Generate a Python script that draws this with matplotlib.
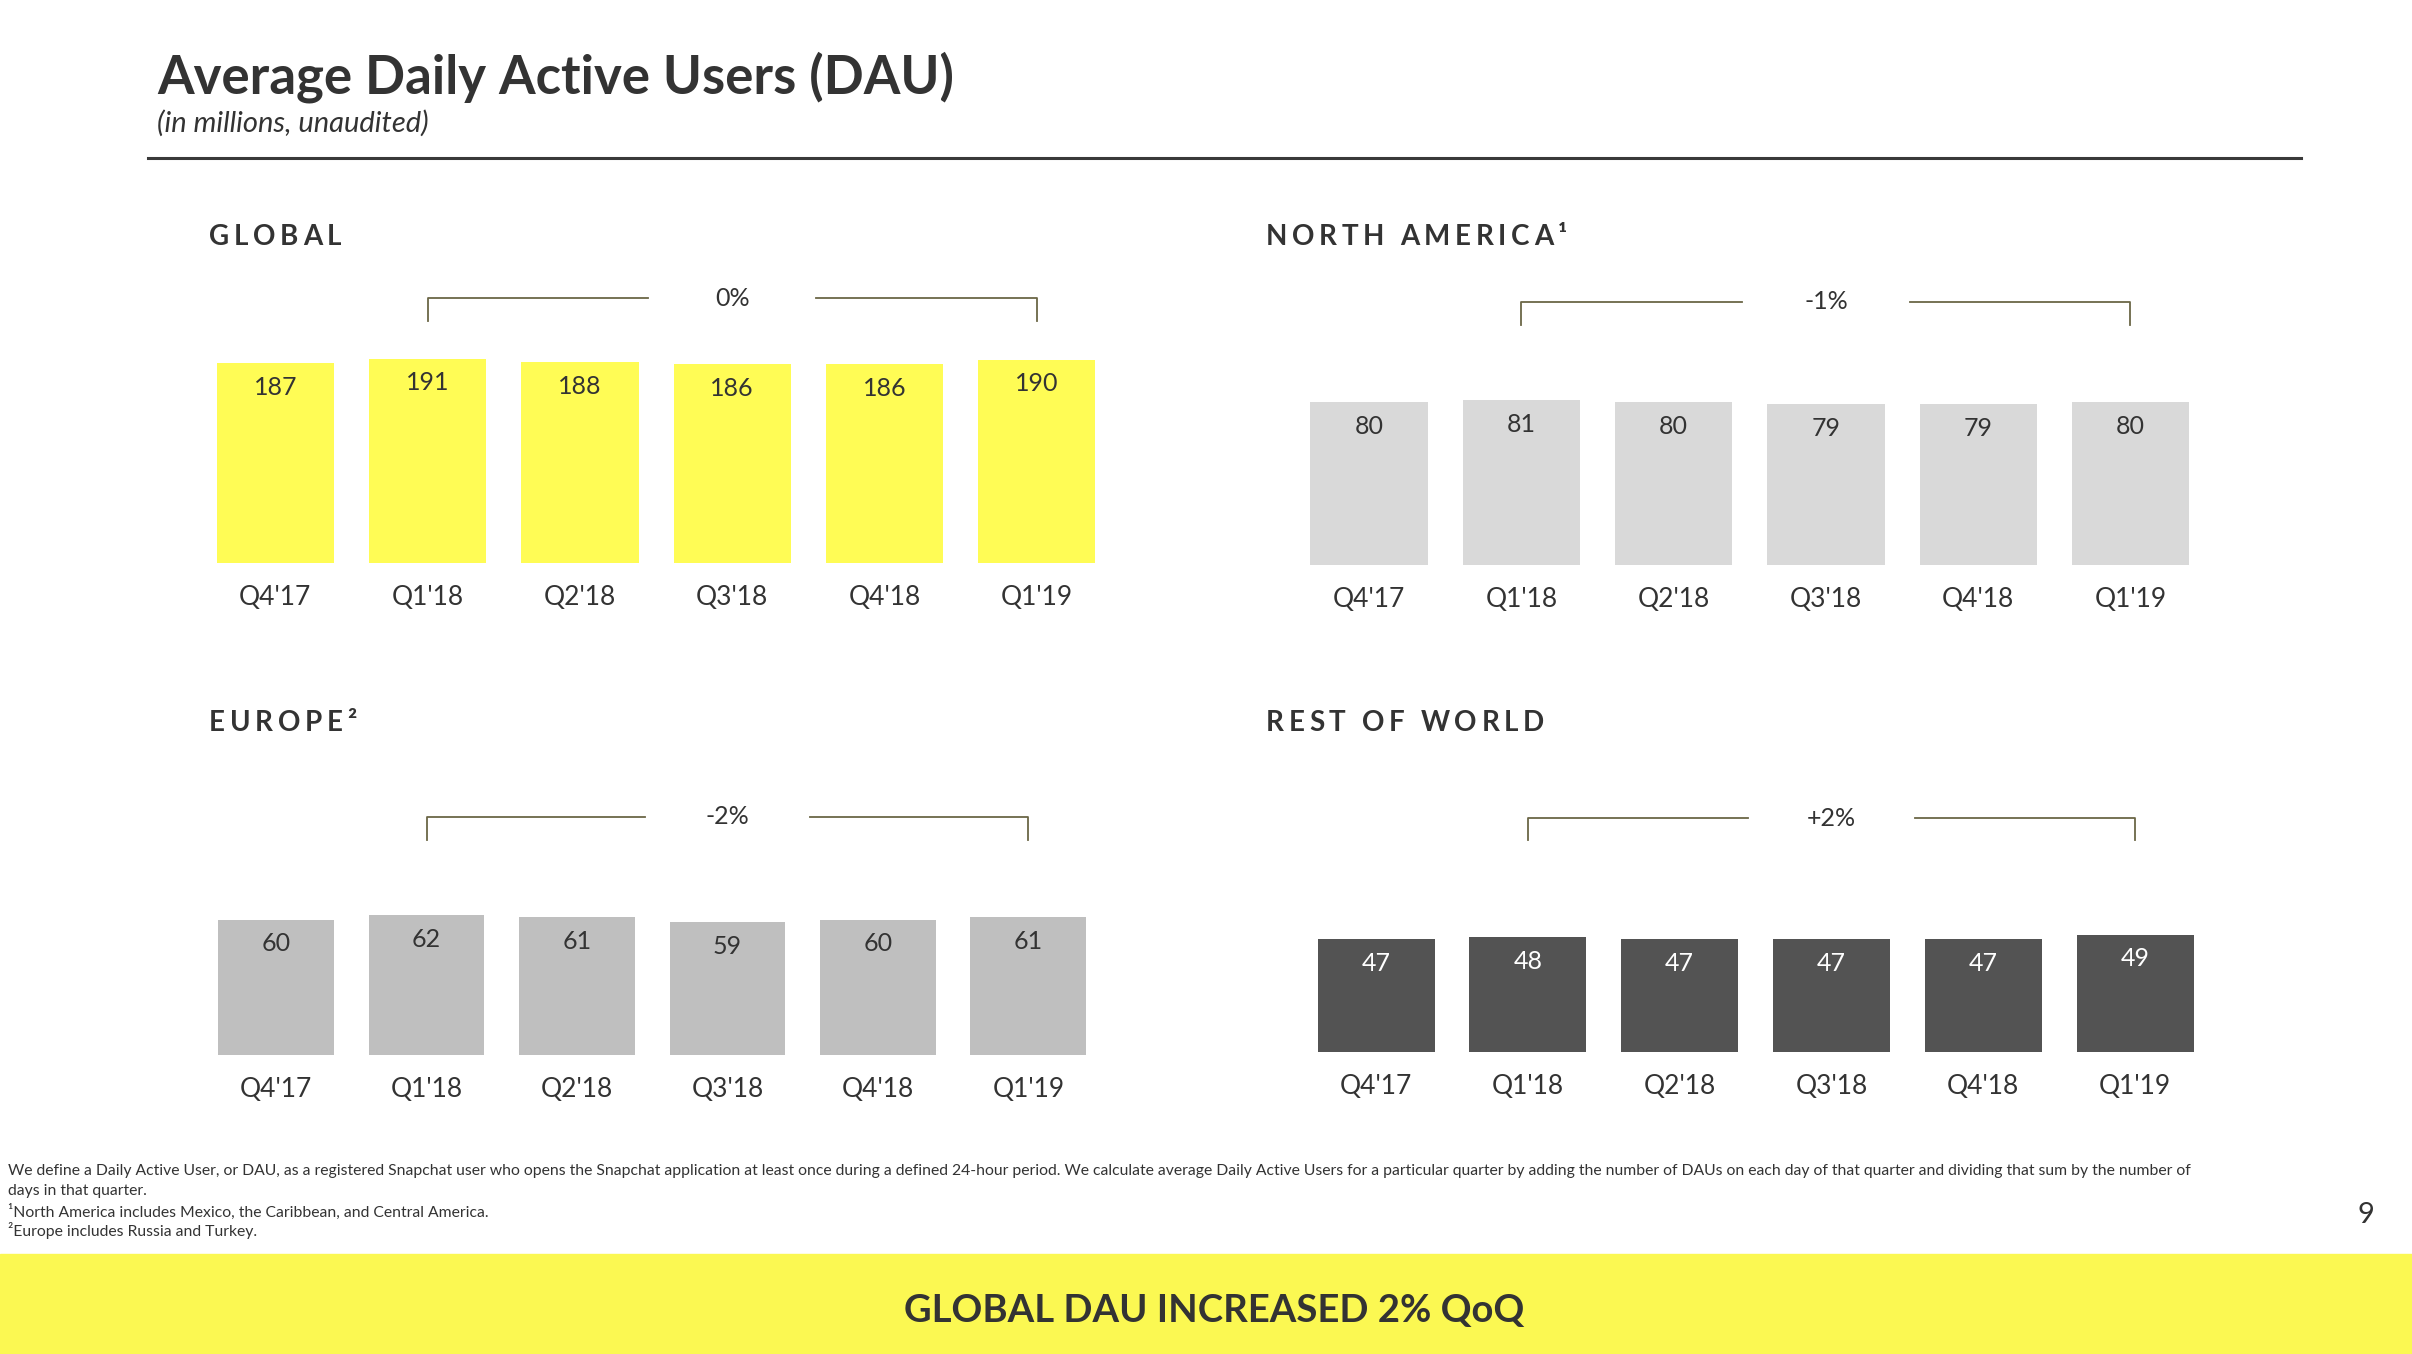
import numpy as np
import matplotlib
matplotlib.use("Agg")
import matplotlib.pyplot as plt
import matplotlib.transforms as mtransforms

plt.rcParams['font.family'] = ['Lato', 'DejaVu Sans']

quarters = ["Q4'17", "Q1'18", "Q2'18", "Q3'18", "Q4'18", "Q1'19"]
global_dau = [187, 191, 188, 186, 186, 190]
na_dau = [80, 81, 80, 79, 79, 80]
europe_dau = [60, 62, 61, 59, 60, 61]
row_dau = [47, 48, 47, 47, 47, 49]
changes = ["0%", "-1%", "-2%", "+2%"]

W, H = 2412, 1354
S = W / 1568.0          # reference sketch was measured at 1568 px wide
DARK = '#333333'

fig = plt.figure(figsize=(W / 100, H / 100), dpi=100)
fig.patch.set_facecolor('white')
renderer = fig.canvas.get_renderer()


def fx(x):
    return x / 1568.0


def fy(y):
    return 1 - y * S / H


def tracked_text(x, y, s, track, **kw):
    # draw caps with letter spacing (track in pixels), one glyph at a time
    px = x * W
    for ch in s:
        if ch == ' ':
            px += kw['fontsize'] * 0.35 + track
            continue
        t = fig.text(px / W, y, ch, ha='left', va='center', **kw)
        px += t.get_window_extent(renderer).width + track


# header
fig.text(fx(102), fy(50), "Average Daily Active Users (DAU)", fontsize=38,
         fontweight='bold', color=DARK, va='center', ha='left')
fig.text(fx(102), fy(80), "(in millions, unaudited)", fontsize=21,
         style='italic', color=DARK, va='center', ha='left')
fig.add_artist(plt.Line2D([fx(96), fx(1496)], [fy(103), fy(103)],
                          color='#3a3a3a', lw=2.2, transform=fig.transFigure))

panels = [
    # title, values, colour, text colour, left, spacing, baseline, px/unit, bracket y, tick y
    ("GLOBAL", global_dau, '#FFFC55', DARK, 129.5, 99.0, 366, 0.696, 194, 209, (136, 154)),
    ("NORTH AMERICA\u00b9", na_dau, '#D9D9D9', DARK, 840.5, 99.0, 367, 1.32, 196, 211, (823, 154)),
    ("EUROPE\u00b2", europe_dau, '#BFBFBF', DARK, 130.6, 97.8, 686, 1.47, 531, 546, (136, 470)),
    ("REST OF WORLD", row_dau, '#535353', 'white', 845.2, 98.7, 684, 1.56, 532, 546, (823, 470)),
]

AX_H = 180.0
for k, (title, vals, col, tcol, left, sp, base, ppu, by, ty, tpos) in enumerate(panels):
    ax = fig.add_axes([fx(left), fy(base), fx(6 * sp), AX_H * S / H])
    x = np.arange(len(quarters))
    ax.bar(x, vals, width=0.77, color=col, edgecolor='none')
    ax.set_xlim(-0.5, 5.5)
    ax.set_ylim(0, AX_H / ppu)
    ax.axis('off')
    for i, v in enumerate(vals):
        ax.annotate(str(v), xy=(i, v), xytext=(0, -17.5), textcoords='offset points',
                    ha='center', va='center', fontsize=18, color=tcol)
        ax.annotate(quarters[i], xy=(i, 0), xytext=(0, -25), textcoords='offset points',
                    ha='center', va='center', fontsize=19, color=DARK)
    # bracket Q1'18 -> Q1'19
    tr = mtransforms.blended_transform_factory(ax.transData, ax.transAxes)
    yb = (base - by) / AX_H
    yt = (base - ty) / AX_H
    bc = '#6b6746'
    gap = 0.55
    ax.plot([1, 1, 3 - gap], [yt, yb, yb], color=bc, lw=1.3, transform=tr, clip_on=False)
    ax.plot([3 + gap, 5, 5], [yb, yb, yt], color=bc, lw=1.3, transform=tr, clip_on=False)
    ax.text(3, yb, changes[k], transform=tr, ha='center', va='center',
            fontsize=18, color=DARK)
    tracked_text(fx(tpos[0]), fy(tpos[1]), title, 4.6, fontsize=20, fontweight='bold',
                 color=DARK)

# footnotes
notes = [
    (761, "We define a Daily Active User, or DAU, as a registered Snapchat user who opens the Snapchat application at least once during a defined 24-hour period. We calculate average Daily Active Users for a particular quarter by adding the number of DAUs on each day of that quarter and dividing that sum by the number of"),
    (774, "days in that quarter."),
    (788, "\u00b9North America includes Mexico, the Caribbean, and Central America."),
    (800, "\u00b2Europe includes Russia and Turkey."),
]
for y, t in notes:
    fig.text(fx(5), fy(y), t, fontsize=11.3, color=DARK, ha='left', va='center')

fig.text(fx(1538), fy(790), "9", fontsize=21, color=DARK, ha='center', va='center')

# bottom banner
fig.add_artist(plt.Rectangle((0, 0), 1, fy(815), color='#FBF852',
                             transform=fig.transFigure, zorder=0))
fig.text(fx(789), fy(852), "GLOBAL DAU INCREASED 2% QoQ", fontsize=27.5,
         fontweight='bold', color=DARK, ha='center', va='center')

fig.savefig("out.png", dpi=100)
